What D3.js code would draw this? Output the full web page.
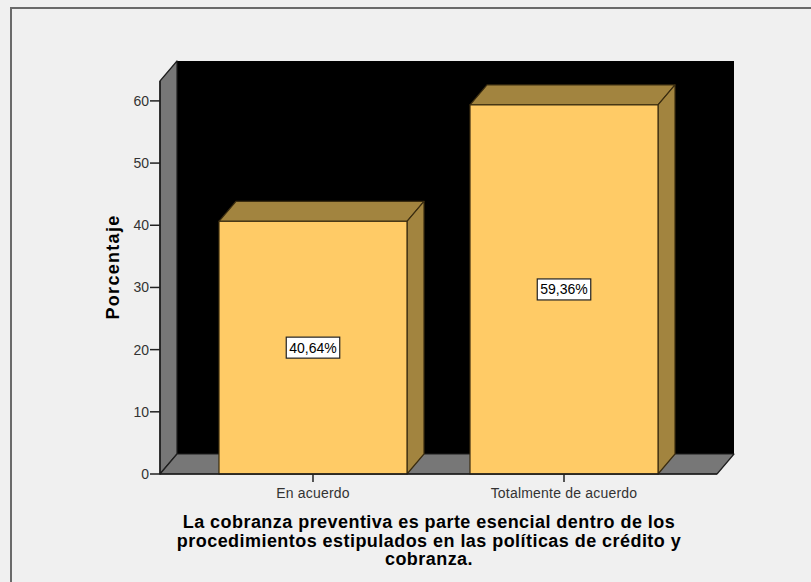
<!DOCTYPE html>
<html>
<head>
<meta charset="utf-8">
<script src="https://cdn.jsdelivr.net/npm/d3@7/dist/d3.min.js"></script>
<style>
  html, body { margin: 0; padding: 0; background: #f0f0f0; }
  svg { display: block; }
  text { font-family: "Liberation Sans", Arial, sans-serif; }
</style>
</head>
<body>
<svg id="chart" width="811" height="582"></svg>
<script>
// Chart data
const categories = ["En acuerdo", "Totalmente de acuerdo"];
const percentages = [40.64, 59.36];
const valueLabels = ["40,64%", "59,36%"];
const yTicks = [0, 10, 20, 30, 40, 50, 60];
const yTitle = "Porcentaje";
const xTitleLines = [
  "La cobranza preventiva es parte esencial dentro de los",
  "procedimientos estipulados en las políticas de crédito y",
  "cobranza."
];

const svg = d3.select("#chart");

// Frame around the whole output
svg.append("rect")
  .attr("x", 11).attr("y", 8).attr("width", 820).attr("height", 600)
  .attr("fill", "#f0f0f0").attr("stroke", "#6a6a6a").attr("stroke-width", 2);

// Front plane of the 3D plot box and depth offset
const plotLeft = 160, plotRight = 717, plotBottom = 474, plotTop = 81;
const dx = 17, dy = -20;

const x = d3.scaleBand().domain(categories).range([plotLeft, plotRight])
  .paddingInner(0.251).paddingOuter(0.235);
const y = d3.scaleLinear().domain([0, 63.2]).range([plotBottom, plotTop]);

const wallStroke = "#1e1e1e";

// Back wall
svg.append("rect")
  .attr("x", plotLeft + dx).attr("y", plotTop + dy)
  .attr("width", plotRight - plotLeft).attr("height", plotBottom - plotTop)
  .attr("fill", "#000");

// Left wall
svg.append("polygon")
  .attr("points", [[plotLeft, plotTop], [plotLeft + dx, plotTop + dy], [plotLeft + dx, plotBottom + dy], [plotLeft, plotBottom]].join(" "))
  .attr("fill", "#777").attr("stroke", wallStroke).attr("stroke-width", 1.2)
  .attr("stroke-linejoin", "round");

// Floor
svg.append("polygon")
  .attr("points", [[plotLeft, plotBottom], [plotLeft + dx, plotBottom + dy], [plotRight + dx, plotBottom + dy], [plotRight, plotBottom]].join(" "))
  .attr("fill", "#777").attr("stroke", wallStroke).attr("stroke-width", 1.2)
  .attr("stroke-linejoin", "round");

// Y axis ticks and labels
const yAxis = svg.append("g");
yAxis.selectAll("line.tick").data(yTicks).join("line")
  .attr("class", "tick")
  .attr("x1", plotLeft - 10).attr("x2", plotLeft)
  .attr("y1", d => y(d)).attr("y2", d => y(d))
  .attr("stroke", "#222").attr("stroke-width", 1.5);
yAxis.selectAll("text").data(yTicks).join("text")
  .attr("x", plotLeft - 11).attr("y", d => y(d))
  .attr("dy", "0.36em")
  .attr("text-anchor", "end")
  .attr("font-size", 14).attr("fill", "#333")
  .text(d => d);

// Bars: front face, top face and right side face
const bars = svg.append("g").selectAll("g").data(categories).join("g");
const barFront = "#ffcb66", barShade = "#a2843f", barStroke = "#3a2c10";

bars.append("polygon")
  .attr("points", (d, i) => {
    const x0 = x(d), x1 = x(d) + x.bandwidth(), yt = y(percentages[i]);
    return [[x0, yt], [x0 + dx, yt + dy], [x1 + dx, yt + dy], [x1, yt]].join(" ");
  })
  .attr("fill", barShade).attr("stroke", barStroke).attr("stroke-width", 1.2)
  .attr("stroke-linejoin", "round");

bars.append("polygon")
  .attr("points", (d, i) => {
    const x1 = x(d) + x.bandwidth(), yt = y(percentages[i]);
    return [[x1, yt], [x1 + dx, yt + dy], [x1 + dx, plotBottom + dy], [x1, plotBottom]].join(" ");
  })
  .attr("fill", barShade).attr("stroke", barStroke).attr("stroke-width", 1.2)
  .attr("stroke-linejoin", "round");

bars.append("rect")
  .attr("x", d => x(d))
  .attr("y", (d, i) => y(percentages[i]))
  .attr("width", x.bandwidth())
  .attr("height", (d, i) => plotBottom - y(percentages[i]))
  .attr("fill", barFront).attr("stroke", barStroke).attr("stroke-width", 1.2);

// Front axis lines along the floor edge and the left wall edge
svg.append("line")
  .attr("x1", plotLeft).attr("x2", plotRight).attr("y1", plotBottom).attr("y2", plotBottom)
  .attr("stroke", wallStroke).attr("stroke-width", 1.5);
svg.append("line")
  .attr("x1", plotLeft).attr("x2", plotLeft).attr("y1", plotTop).attr("y2", plotBottom)
  .attr("stroke", wallStroke).attr("stroke-width", 1.5);

// Value labels in boxes at half bar height
bars.each(function(d, i) {
  const g = d3.select(this);
  const cx = x(d) + x.bandwidth() / 2;
  const cy = y(percentages[i] / 2);
  const t = g.append("text")
    .attr("x", cx).attr("y", cy).attr("dy", "0.36em")
    .attr("text-anchor", "middle")
    .attr("font-size", 14).attr("fill", "#000")
    .text(valueLabels[i]);
  const bb = t.node().getBBox();
  g.insert("rect", "text")
    .attr("x", bb.x - 3).attr("y", cy - 10.5)
    .attr("width", bb.width + 6).attr("height", 21)
    .attr("fill", "#fff").attr("stroke", "#222").attr("stroke-width", 1.2);
});

// X axis ticks and category labels
const xAxis = svg.append("g");
xAxis.selectAll("line").data(categories).join("line")
  .attr("x1", d => x(d) + x.bandwidth() / 2).attr("x2", d => x(d) + x.bandwidth() / 2)
  .attr("y1", plotBottom).attr("y2", plotBottom + 8)
  .attr("stroke", "#222").attr("stroke-width", 1.5);
xAxis.selectAll("text").data(categories).join("text")
  .attr("x", d => x(d) + x.bandwidth() / 2).attr("y", plotBottom + 24)
  .attr("text-anchor", "middle")
  .attr("font-size", 14).attr("letter-spacing", 0.2).attr("fill", "#333")
  .text(d => d);

// Y axis title
svg.append("text")
  .attr("transform", "translate(119,267) rotate(-90)")
  .attr("text-anchor", "middle")
  .attr("font-size", 18).attr("font-weight", "bold").attr("letter-spacing", 1.3)
  .attr("fill", "#000")
  .text(yTitle);

// X axis title
svg.append("g").selectAll("text").data(xTitleLines).join("text")
  .attr("x", 429).attr("y", (d, i) => 528 + i * 18.7)
  .attr("text-anchor", "middle")
  .attr("font-size", 18).attr("font-weight", "bold").attr("letter-spacing", 0.45)
  .attr("fill", "#000")
  .text(d => d);
</script>
</body>
</html>
